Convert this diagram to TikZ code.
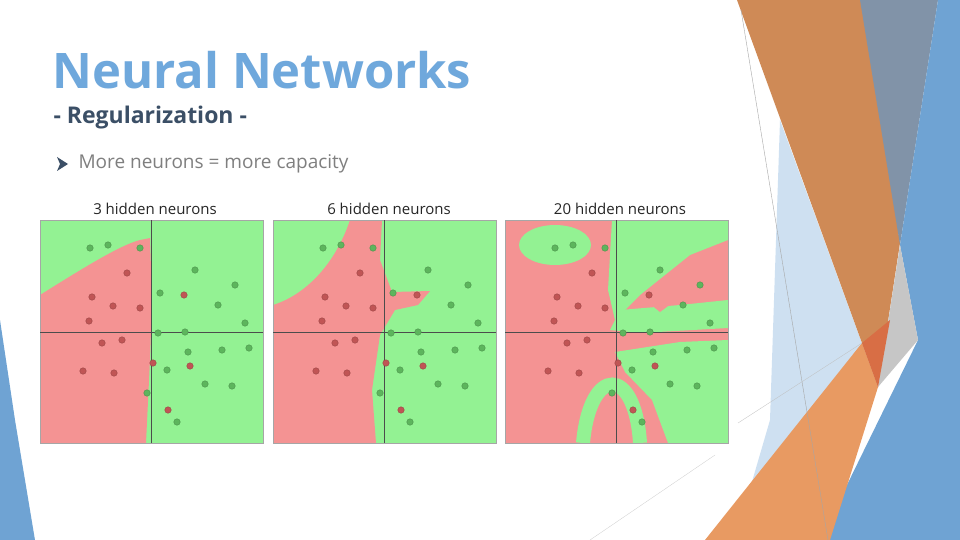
\documentclass[tikz,border=0pt]{standalone}
\usepackage{fontspec}
\setmainfont{Open Sans}
\usetikzlibrary{calc}
\definecolor{titleblue}{HTML}{6FA8DC}
\definecolor{subgray}{HTML}{3B4F66}
\definecolor{bodygray}{HTML}{7F7F7F}
\definecolor{bgreen}{HTML}{93F293}
\definecolor{bred}{HTML}{F49393}
\definecolor{dgreen}{HTML}{5DB55D}
\definecolor{dred}{HTML}{C05555}
\definecolor{orng}{HTML}{CF8A56}
\definecolor{orng2}{HTML}{E89A62}
\definecolor{slate}{HTML}{8193A8}
\definecolor{sky}{HTML}{6FA3D3}
\definecolor{pale}{HTML}{C9DDF0}
\tikzset{
  panel/.style={draw=gray!70, line width=0.6pt},
  axis/.style={draw=gray!60!black, line width=0.5pt},
  gdot/.style={circle, fill=dgreen, draw=dgreen!80!black, inner sep=0pt, minimum size=6.5pt},
  rdot/.style={circle, fill=dred, draw=dred!80!black, inner sep=0pt, minimum size=6.5pt},
  ptitle/.style={font=\fontsize{15}{17}\selectfont, text=black!85},
}
\begin{document}
\begin{tikzpicture}[x=1pt, y=-1pt]
  \useasboundingbox (0,0) rectangle (960,540);
  \fill[white] (0,0) rectangle (960,540);

  % right decoration
  \fill[pale, opacity=0.9] (780,120) -- (878,387) -- (735,540) -- (770,420) -- cycle;
  \fill[orng] (737,0) -- (863,0) -- (900,243) -- (878,387) -- cycle;
  \fill[slate] (860,0) -- (938,0) -- (900,245) -- cycle;
  \fill[sky] (938,0) -- (960,0) -- (960,540) -- (820,540) -- (918,340) -- (900,245) -- cycle;
  \fill[gray!45] (900,245) -- (918,340) -- (878,387) -- cycle;
  \fill[orng2] (705,540) -- (862,343) -- (878,387) -- (830,540) -- cycle;
  \fill[orng!80!red] (862,343) -- (890,320) -- (878,387) -- cycle;
  \draw[gray!70, line width=0.4pt] (741,10) -- (828,540);
  \draw[gray!50, line width=0.3pt] (738,423) -- (862,343);
  \draw[gray!40, line width=0.3pt] (590,540) -- (715,455);

  % left sliver
  \fill[sky] (0,320) -- (15,420) -- (35,540) -- (0,540) -- cycle;

  % texts
  \node[anchor=west, text=titleblue, font=\bfseries\fontsize{49}{52}\selectfont] (title) at (49,70) {Neural Networks};
  \node[anchor=west, text=subgray, font=\bfseries\fontsize{23}{26}\selectfont] (sub) at (50,118) {- Regularization -};
  \fill[subgray] (57,157) -- (68,164) -- (57,171) -- (60,164) -- cycle;
  \node[anchor=west, text=bodygray, font=\fontsize{19}{22}\selectfont] (bullet) at (75,164) {More neurons = more capacity};

  % panel 1
  \fill[bgreen] (40,220) rectangle (263,443);
  \fill[bred] (40,295) .. controls (80,270) and (120,245) .. (140,240)
    -- (150,238) -- (152,300) -- (150,360) -- (146,443) -- (40,443) -- cycle;
  % panel 2
  \fill[bgreen] (273,220) rectangle (496,443);
  \fill[bred] (350,220) -- (382,220) -- (380,260) -- (392,292) -- (430,291) -- (418,305)
    -- (395,310) -- (380,335) -- (372,390) -- (376,443) -- (273,443) -- (273,305)
    .. controls (305,295) and (335,265) .. cycle;
  % panel 3
  \fill[bred] (505,220) rectangle (728,443);
  \fill[bgreen] (555,245) ellipse [x radius=36, y radius=20];
  \fill[bgreen] (612,220) -- (728,220) -- (728,240) -- (690,255) -- (640,295) -- (615,320) -- (608,290) -- cycle;
  \fill[bgreen] (620,310) -- (680,305) -- (728,300) -- (728,328) -- (640,333) -- (610,330) -- cycle;
  \fill[bgreen] (615,352) -- (680,342) -- (728,340) -- (728,443) -- (668,443) -- (652,400) -- (625,372) -- cycle;
  \draw[bgreen, line width=14pt] (583,443) .. controls (590,365) and (635,365) .. (640,443);
  \fill[bred] (645,300) -- (720,245) -- (728,262) -- (660,312) -- cycle;

  \foreach \dx/\x in {0/40, 233/273, 465/505} {
    \draw[panel] (\x,220) rectangle ++(223,223);
    \draw[axis] (\x+111.5,220) -- (\x+111.5,443);
    \draw[axis] (\x,332) -- (\x+223,332);
    \foreach \px/\py in {90/248,108/245,140/248,195/270,235/285,160/293,218/305,245/323,
        158/333,185/332,222/350,249/348,188/352,167/370,205/384,232/386,147/393,177/422}
      \node[gdot] at (\px+\dx,\py) {};
    \foreach \px/\py in {127/273,92/297,113/306,140/308,184/295,89/321,102/343,122/340,
        153/363,83/371,114/373,190/366,168/410}
      \node[rdot] at (\px+\dx,\py) {};
  }
  \node[ptitle] (t1) at (155,209) {3 hidden neurons};
  \node[ptitle] (t2) at (389,209) {6 hidden neurons};
  \node[ptitle] (t3) at (620,209) {20 hidden neurons};
\end{tikzpicture}
\end{document}
